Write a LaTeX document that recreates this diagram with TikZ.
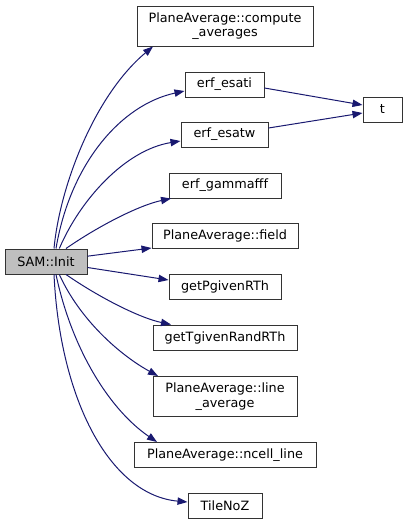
\documentclass[tikz,border=0pt]{standalone}
\usepackage{fontspec}
\setmainfont{DejaVu Sans}
\usetikzlibrary{arrows.meta}
\definecolor{edgeblue}{HTML}{191970}
\definecolor{nodegray}{HTML}{BFBFBF}
\begin{document}
\begin{tikzpicture}[x=0.75pt,y=-0.75pt,font=\fontsize{9.6}{11}\selectfont,
	fn/.style={draw=black!80,line width=0.75pt,fill=white,inner sep=0pt,align=center,minimum height=18.75pt},
	call/.style={draw=edgeblue,line width=0.75pt,-{Triangle[length=7.5pt,width=5.5pt]}}]
				\useasboundingbox (0,0) rectangle (408,525);
				\node[fn,fill=nodegray,minimum width=61.5pt] (sam) at (46,261.5) {SAM::Init};
				\node[fn,minimum width=132pt,minimum height=30pt] (comp) at (225,26) {PlaneAverage::compute\\\_averages};
				\node[fn,minimum width=59.25pt] (esati) at (224.5,84.5) {erf\_esati};
				\node[fn,minimum width=65.25pt] (esatw) at (224.5,134.5) {erf\_esatw};
				\node[fn,minimum width=29.25pt] (t) at (382.5,109.5) {t};
				\node[fn,minimum width=84pt] (gamma) at (225,185.5) {erf\_gammafff};
				\node[fn,minimum width=109.5pt] (field) at (225,236) {PlaneAverage::field};
				\node[fn,minimum width=84pt] (pgiven) at (225,287) {getPgivenRTh};
				\node[fn,minimum width=108pt] (tgiven) at (225,337.5) {getTgivenRandRTh};
				\node[fn,minimum width=108pt,minimum height=30pt] (lineavg) at (225,396.5) {PlaneAverage::line\\\_average};
				\node[fn,minimum width=136.5pt] (ncell) at (225,455) {PlaneAverage::ncell\_line};
				\node[fn,minimum width=55.5pt] (tile) at (225,505.5) {TileNoZ};
				% calls out of SAM::Init
				\draw[call] ([xshift=6pt]sam.north) .. controls (60,185) and (95,95) .. (comp.south west -| 153,0) ;
				\draw[call] ([xshift=7.5pt]sam.north) .. controls (70,165) and (120,105) .. (esati.west |- 0,91);
				\draw[call] ([xshift=10pt]sam.north) .. controls (80,200) and (125,150) .. (esatw.west |- 0,141);
				\draw[call] ([xshift=15pt]sam.north) .. controls (100,225) and (140,205) .. (gamma.south west -| 171,0);
				\draw[call] ([yshift=4pt]sam.east) -- (field.west |- 0,248);
				\draw[call] ([yshift=-4.5pt]sam.east) -- (pgiven.west |- 0,280);
				\draw[call] ([xshift=15pt]sam.south) .. controls (100,298) and (140,318) .. (tgiven.north west -| 171,0);
				\draw[call] ([xshift=10pt]sam.south) .. controls (80,320) and (120,355) .. (lineavg.north west -| 158,0);
				\draw[call] ([xshift=7.5pt]sam.south) .. controls (72,350) and (110,410) .. (ncell.north west -| 157,0);
				\draw[call] ([xshift=6pt]sam.south) .. controls (60,400) and (110,495) .. (tile.west |- 0,502);
				% both erf calls reach t
				\draw[call] (esati.east |- 0,88) -- (t.west |- 0,105);
				\draw[call] (esatw.east |- 0,128) -- (t.west |- 0,113);
\end{tikzpicture}
\end{document}
